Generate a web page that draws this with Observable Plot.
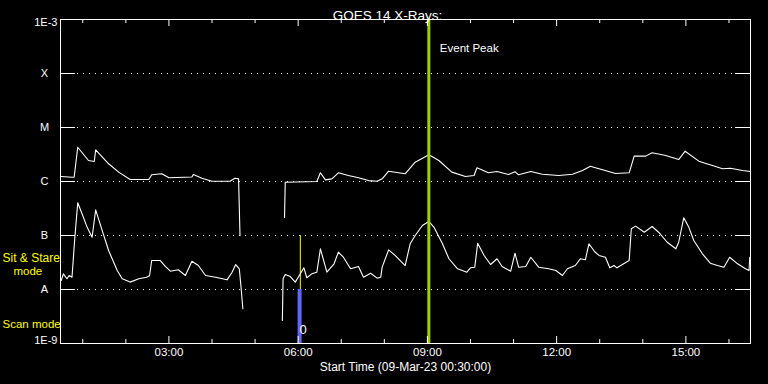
<!DOCTYPE html>
<html><head><meta charset="utf-8">
<script src="https://cdn.jsdelivr.net/npm/d3@7"></script>
<script src="https://cdn.jsdelivr.net/npm/@observablehq/plot@0.6"></script>
<style>
html,body{margin:0;padding:0;background:#000;}
#chart svg{display:block;}
</style></head><body><div id="chart"></div>
<script>
// ---- data ----
const titleText = "GOES 14 X-Rays:";
const xTitle = "Start Time (09-Mar-23 00:30:00)";
const xDomain = ["00:29", "16:30"];

// long channel (1-8 Å), W/m^2 ; NaN marks the data gap
const longTimes = ["00:30","00:45","00:48","00:53","01:08","01:16","01:18","01:36","01:50","02:06","02:32","02:36","02:50","03:00","03:32","03:34","03:46","04:00","04:25","04:32","04:37","04:39","05:10","05:41","05:42","06:26","06:31","06:38","06:47","06:56","07:10","07:24","07:38","07:50","07:57","08:06","08:29","08:43","09:02","09:16","09:34","09:53","10:05","10:09","10:25","10:37","10:53","11:02","11:07","11:24","11:40","12:03","12:22","12:36","12:47","12:54","12:59","13:22","13:41","13:48","14:04","14:13","14:32","14:50","14:59","15:18","15:37","15:51","16:02","16:19","16:30"];
const longFlux = [1.24e-6,1.20e-6,1.20e-6,4.31e-6,2.45e-6,2.35e-6,3.86e-6,2.13e-6,1.49e-6,1.09e-6,1.09e-6,1.33e-6,1.39e-6,1.17e-6,1.21e-6,1.35e-6,1.15e-6,1.01e-6,1.01e-6,1.15e-6,1.12e-6,1.0e-7,NaN,2.15e-7,9.7e-7,1.0e-6,1.45e-6,1.07e-6,1.12e-6,1.45e-6,1.29e-6,1.17e-6,1.04e-6,1.01e-6,1.12e-6,1.55e-6,1.39e-6,2.28e-6,3.12e-6,2.45e-6,1.49e-6,1.24e-6,1.29e-6,1.80e-6,1.45e-6,1.53e-6,1.35e-6,1.52e-6,1.33e-6,1.53e-6,1.36e-6,1.29e-6,1.36e-6,1.60e-6,1.92e-6,1.80e-6,1.72e-6,1.41e-6,1.45e-6,2.95e-6,2.95e-6,3.40e-6,3.03e-6,2.55e-6,3.64e-6,2.38e-6,1.98e-6,1.72e-6,1.76e-6,1.60e-6,1.53e-6];

// short channel (0.5-4 Å), W/m^2
const shortTimes = ["00:30","00:33","00:38","00:41","00:45","00:49","00:53","00:59","01:06","01:13","01:18","01:27","01:36","01:48","01:55","02:06","02:18","02:29","02:33","02:36","02:48","02:55","03:02","03:13","03:23","03:32","03:41","03:51","04:05","04:21","04:28","04:33","04:38","04:40","04:43","05:10","05:38","05:39","05:42","05:49","05:56","06:03","06:08","06:12","06:19","06:26","06:31","06:40","06:50","06:56","07:03","07:13","07:24","07:31","07:41","07:50","07:55","07:57","08:06","08:15","08:29","08:36","08:43","08:53","09:02","09:09","09:21","09:30","09:42","09:55","10:00","10:06","10:10","10:19","10:28","10:37","10:44","10:56","11:02","11:07","11:17","11:24","11:35","11:49","11:59","12:08","12:15","12:26","12:33","12:40","12:45","12:48","12:53","12:59","13:08","13:14","13:20","13:24","13:41","13:44","13:50","14:02","14:13","14:22","14:34","14:46","14:50","14:57","15:04","15:11","15:23","15:34","15:44","15:53","16:01","16:12","16:23","16:28","16:29"];
const shortFlux = [1.47e-8,1.95e-8,1.58e-8,1.82e-8,1.69e-8,9.3e-8,4.04e-7,2.52e-7,1.43e-7,9.3e-8,2.99e-7,1.24e-7,5.28e-8,2.25e-8,1.58e-8,1.37e-8,1.58e-8,1.69e-8,1.8e-8,3.44e-8,3.44e-8,2.67e-8,2.18e-8,2.32e-8,1.82e-8,3.34e-8,2.78e-8,1.82e-8,1.69e-8,1.51e-8,2.09e-8,2.90e-8,2.42e-8,1.28e-8,4.4e-9,NaN,2.67e-9,1.58e-8,1.90e-8,1.74e-8,1.37e-8,1.95e-8,2.52e-8,1.65e-8,1.95e-8,2.09e-8,5.67e-8,2.09e-8,2.99e-8,4.91e-8,3.96e-8,2.42e-8,2.67e-8,1.69e-8,2.00e-8,1.62e-8,1.69e-8,2.59e-8,5.43e-8,4.27e-8,2.78e-8,7.02e-8,1.0e-7,1.53e-7,1.82e-7,1.43e-7,7.02e-8,3.71e-8,2.42e-8,2.09e-8,2.52e-8,2.59e-8,7.2e-8,4.27e-8,2.90e-8,3.71e-8,2.67e-8,2.18e-8,4.7e-8,2.59e-8,2.67e-8,3.96e-8,2.59e-8,2.42e-8,2.25e-8,1.82e-8,2.42e-8,2.78e-8,3.71e-8,3.55e-8,7.0e-8,6.2e-8,5.0e-8,4.27e-8,3.96e-8,2.52e-8,2.78e-8,2.52e-8,3.44e-8,1.33e-7,1.49e-7,1.15e-7,1.47e-7,1.15e-7,7.5e-8,5.67e-8,7.5e-8,2.13e-7,1.43e-7,8.08e-8,4.58e-8,3.07e-8,2.78e-8,2.59e-8,3.96e-8,2.99e-8,2.42e-8,2.25e-8,3.96e-8];

const decadeValues = [1e-9, 1e-8, 1e-7, 1e-6, 1e-5, 1e-4, 1e-3];
const decadeLabels = ["1E-9", "A", "B", "C", "M", "X", "1E-3"];
const classValues = [1e-8, 1e-7, 1e-6, 1e-5, 1e-4];
const minorTicks = ["01:00","02:00","04:00","05:00","07:00","08:00","10:00","11:00","13:00","14:00","16:00"];
const majorTicks = ["03:00","06:00","09:00","12:00","15:00"];

const eventPeakTime = "09:02";
const eventPeakLabel = "Event Peak";
const scanTime = "06:02";
const scanBand = [1e-9, 1e-8];
const stareTime = "06:03";
const stareBand = [1e-8, 1e-7];
const markerTime = "06:07";
const markerText = "0";
const modeLabels = ["Sit & Stare", "mode", "Scan mode"];

// ---- build ----
const T = s => { const [h, m] = s.split(":").map(Number); return new Date(Date.UTC(2023, 2, 9, h, m)); };
const longData = longTimes.map((t, i) => ({time: T(t), flux: longFlux[i]}));
const shortData = shortTimes.map((t, i) => ({time: T(t), flux: shortFlux[i]}));
const decades = decadeValues.map((v, i) => ({v, label: decadeLabels[i]}));
const letters = decades.filter(d => !d.label.startsWith("1E"));
const gm = b => Math.sqrt(b[0] * b[1]);

const W = "#ffffff", FONT = "'Liberation Sans', Arial, sans-serif";

const chart = Plot.plot({
  width: 768, height: 384,
  marginLeft: 60, marginRight: 18, marginTop: 19, marginBottom: 41,
  style: {background: "#000", color: W, fontFamily: FONT, fontSize: "11px", overflow: "visible"},
  x: {type: "utc", domain: xDomain.map(T), axis: null},
  y: {type: "log", domain: [decadeValues[0], decadeValues[decadeValues.length - 1]], axis: null},
  marks: [
    Plot.ruleY(classValues, {y: d => d, stroke: W, strokeDasharray: "1,5", insetLeft: 17, insetRight: 16}),
    Plot.ruleX([scanTime], {x: T, y1: scanBand[0], y2: scanBand[1], stroke: "#6464ff", strokeWidth: 4}),
    Plot.ruleX([stareTime], {x: T, y1: stareBand[0], y2: stareBand[1], stroke: "#ffff00", strokeWidth: 1}),
    Plot.line(longData, {x: "time", y: "flux", stroke: W, strokeWidth: 1.1}),
    Plot.line(shortData, {x: "time", y: "flux", stroke: W, strokeWidth: 1.1}),
    Plot.ruleX([eventPeakTime], {x: T, stroke: "#a0d000", strokeWidth: 3}),
    Plot.text([eventPeakLabel], {x: () => T(eventPeakTime), text: d => d, frameAnchor: "top", dy: 24, dx: 11, textAnchor: "start", fill: W, fontSize: 11.5}),
    Plot.text([markerText], {x: () => T(markerTime), text: d => d, frameAnchor: "bottom", dy: -10, fill: W, fontSize: 13}),
    Plot.frame({stroke: W}),
    Plot.ruleY(classValues, {y: d => d, stroke: W, insetRight: 675}),
    Plot.ruleY(classValues, {y: d => d, stroke: W, insetLeft: 675}),
    Plot.ruleX(minorTicks, {x: T, stroke: W, insetTop: 320}),
    Plot.ruleX(minorTicks, {x: T, stroke: W, insetBottom: 320}),
    Plot.ruleX(majorTicks, {x: T, stroke: W, insetTop: 317}),
    Plot.ruleX(majorTicks, {x: T, stroke: W, insetBottom: 317}),
    Plot.text(letters, {y: "v", text: "label", frameAnchor: "left", dx: -16, textAnchor: "middle", fill: W}),
    Plot.text([decades[decades.length - 1]], {y: "v", text: "label", frameAnchor: "left", dx: -3, dy: 3, textAnchor: "end", fill: W}),
    Plot.text([decades[0]], {y: "v", text: "label", frameAnchor: "left", dx: -3, dy: -3, textAnchor: "end", fill: W}),
    Plot.text([modeLabels[0]], {y: () => gm(stareBand), text: d => d, frameAnchor: "left", dx: -58, dy: -4, textAnchor: "start", fill: "#ffff00", fontSize: 12}),
    Plot.text([modeLabels[1]], {y: () => gm(stareBand), text: d => d, frameAnchor: "left", dx: -47, dy: 9, textAnchor: "start", fill: "#ffff00", fontSize: 11.5}),
    Plot.text([modeLabels[2]], {y: () => gm(scanBand), text: d => d, frameAnchor: "left", dx: -58, dy: 8, textAnchor: "start", fill: "#ffff00", fontSize: 11.5}),
    Plot.text(majorTicks, {x: T, text: d => d, frameAnchor: "bottom", dy: 12, fill: W, fontSize: 11.5}),
    Plot.text([xTitle], {text: d => d, frameAnchor: "bottom", dy: 27, fill: W, fontSize: 12}),
    Plot.text([titleText], {text: d => d, frameAnchor: "top", dy: -9, dx: -18, fill: W, fontSize: 13.5})
  ]
});
document.getElementById("chart").append(chart);
</script>
</body></html>
